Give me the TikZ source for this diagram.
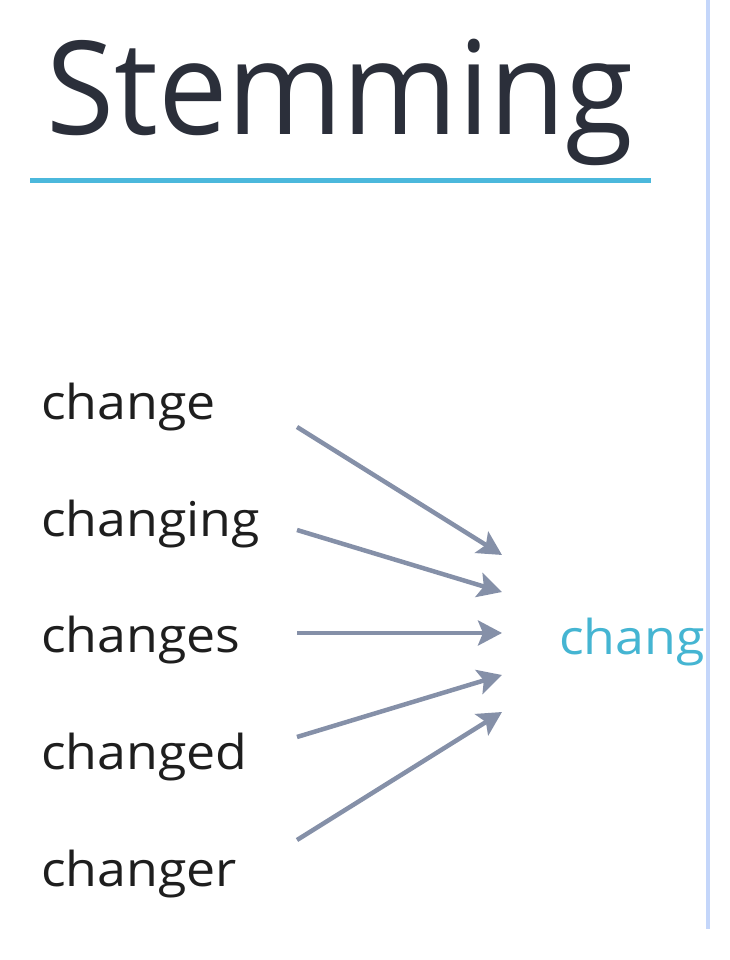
\documentclass[tikz,border=0pt]{standalone}
\usepackage{fontspec}
\setmainfont{Open Sans}
\usetikzlibrary{arrows.meta}
\definecolor{titlecol}{HTML}{2B2F3A}
\definecolor{wordcol}{HTML}{1E1E1E}
\definecolor{stemcol}{HTML}{45B5D2}
\definecolor{rulecol}{HTML}{4BB8DC}
\definecolor{vlinecol}{HTML}{C4D6FA}
\definecolor{arrowcol}{HTML}{8590A8}
\begin{document}
\begin{tikzpicture}[x=1pt,y=1pt,
  word/.style={anchor=base west,inner sep=0pt,xscale=1.08,text=wordcol,font=\fontsize{48}{58}\selectfont},
  stemword/.style={anchor=base west,inner sep=0pt,xscale=1.08,text=stemcol,font=\fontsize{48}{58}\selectfont},
  titletext/.style={anchor=base west,inner sep=0pt,xscale=0.954,text=titlecol,font=\fontsize{130}{150}\selectfont},
  arr/.style={draw=arrowcol,line width=4.5pt,-{Stealth[length=24pt,width=25pt,inset=5pt]}}]
\useasboundingbox (0,0) rectangle (730,960);
% title
\node[titletext] (title) at (46,825) {Stemming};
\coordinate (ulL) at (30,779);
\coordinate (ulR) at (651,779);
\draw[rulecol,line width=5pt] (ulL) -- (ulR);
% right vertical line
\coordinate (vT) at (708,960);
\coordinate (vB) at (708,31);
\draw[vlinecol,line width=4pt] (vT) -- (vB);
% words
\node[word] (w1) at (41,540) {change};
\node[word] (w2) at (41,423) {changing};
\node[word] (w3) at (41,307) {changes};
\node[word] (w4) at (41,190) {changed};
\node[word] (w5) at (41,73) {changer};
\node[stemword] (stem) at (559,305) {chang};
% arrow coordinates
\coordinate (s1) at (297,533);
\coordinate (s2) at (297,430);
\coordinate (s3) at (297,327);
\coordinate (s4) at (297,223);
\coordinate (s5) at (297,120);
\coordinate (t1) at (502,405);
\coordinate (t2) at (502,368);
\coordinate (t3) at (502,327);
\coordinate (t4) at (502,285);
\coordinate (t5) at (502,248);
\foreach \i in {1,...,5}{\draw[arr] (s\i) -- (t\i);}
\end{tikzpicture}
\end{document}
